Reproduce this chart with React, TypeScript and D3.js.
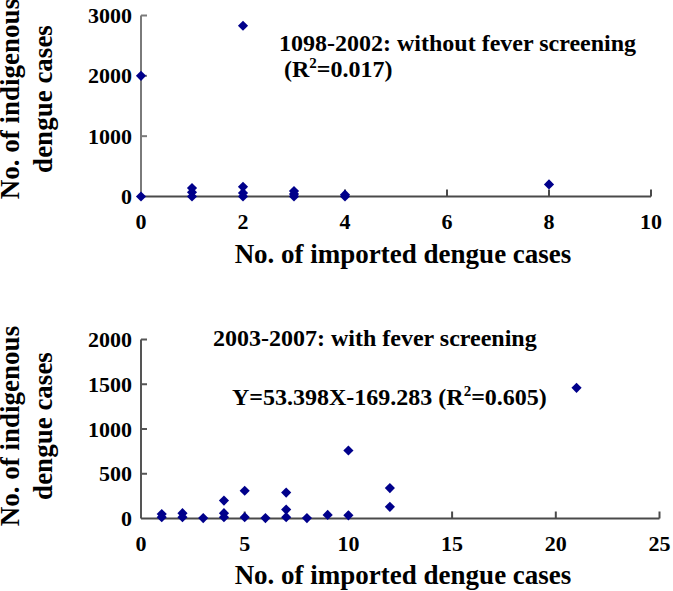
import React from "react";
import * as d3 from "d3";

// ---- Data ----
const topX = [0, 0, 1, 1, 1, 2, 2, 2, 2, 3, 3, 3, 4, 4, 8];
const topY = [0, 2000, 0, 70, 140, 0, 60, 160, 2830, 0, 40, 90, 0, 30, 200];

const botX = [1, 1, 2, 2, 3, 4, 4, 4, 5, 5, 6, 7, 7, 7, 8, 9, 10, 10, 12, 12, 21];
const botY = [50, 15, 60, 15, 5, 200, 60, 15, 310, 15, 5, 290, 100, 15, 5, 40, 760, 35, 340, 130, 1460];

const topXTicks = [0, 2, 4, 6, 8, 10];
const topYTicks = [0, 1000, 2000, 3000];
const botXTicks = [0, 5, 10, 15, 20, 25];
const botYTicks = [0, 500, 1000, 1500, 2000];

const xTitle = "No. of imported dengue cases";
const yTitle1 = "No. of indigenous";
const yTitle2 = "dengue cases";
const topNote1 = "1098-2002: without fever screening";
const topNoteR = ["(R", "2", "=0.017)"];
const botNote1 = "2003-2007: with fever screening";
const botNoteEq = ["Y=53.398X-169.283 (R", "2", "=0.605)"];

const FONT = "'Liberation Serif', 'Times New Roman', serif";
const MARK = "#00008B";

type PanelProps = {
  xs: number[];
  ys: number[];
  xDomain: [number, number];
  yDomain: [number, number];
  xRange: [number, number];
  yRange: [number, number];
  xTicks: number[];
  yTicks: number[];
  titleY: number;
  yTitleCenter: number;
  yAxisColor: string;
  notes: React.ReactNode;
};

function Panel(p: PanelProps) {
  const x = d3.scaleLinear().domain(p.xDomain).range(p.xRange);
  const y = d3.scaleLinear().domain(p.yDomain).range(p.yRange);
  const sym = d3.symbol().type(d3.symbolDiamond2).size(66)() as string;
  const x0 = p.xRange[0];
  const y0 = p.yRange[0];
  return (
    <g>
      {/* y axis */}
      <line x1={x0} x2={x0} y1={p.yRange[1]} y2={y0} stroke={p.yAxisColor} strokeWidth={2} />
      {p.yTicks.map((t) => (
        <g key={"yt" + t}>
          {t !== 0 && (
            <line x1={x0} x2={x0 + 6} y1={y(t)} y2={y(t)} stroke={p.yAxisColor} strokeWidth={2} />
          )}
          <text
            x={x0 - 9}
            y={y(t)}
            textAnchor="end"
            dominantBaseline="central"
            fontFamily={FONT}
            fontWeight="bold"
            fontSize={22}
          >
            {t}
          </text>
        </g>
      ))}
      {/* x axis */}
      <line x1={x0} x2={p.xRange[1]} y1={y0} y2={y0} stroke="#4a4a4a" strokeWidth={2} />
      {p.xTicks.map((t) => (
        <g key={"xt" + t}>
          {t !== 0 && (
            <line x1={x(t)} x2={x(t)} y1={y0} y2={y0 - 7} stroke="#4a4a4a" strokeWidth={2} />
          )}
          <text
            x={x(t)}
            y={y0 + 25}
            textAnchor="middle"
            dominantBaseline="central"
            fontFamily={FONT}
            fontWeight="bold"
            fontSize={22}
          >
            {t}
          </text>
        </g>
      ))}
      {/* points */}
      {p.xs.map((xv, i) => (
        <path key={"pt" + i} d={sym} transform={`translate(${x(xv)},${y(p.ys[i])})`} fill={MARK} />
      ))}
      {/* titles */}
      <text
        x={403}
        y={p.titleY}
        textAnchor="middle"
        fontFamily={FONT}
        fontWeight="bold"
        fontSize={27}
      >
        {xTitle}
      </text>
      <text
        transform={`translate(19,${p.yTitleCenter}) rotate(-90)`}
        textAnchor="middle"
        fontFamily={FONT}
        fontWeight="bold"
        fontSize={27}
      >
        {yTitle1}
      </text>
      <text
        transform={`translate(52,${p.yTitleCenter}) rotate(-90)`}
        textAnchor="middle"
        fontFamily={FONT}
        fontWeight="bold"
        fontSize={27}
      >
        {yTitle2}
      </text>
      {p.notes}
    </g>
  );
}

function Sup({ parts, x, yb }: { parts: string[]; x: number; yb: number }) {
  return (
    <text x={x} y={yb} fontFamily={FONT} fontWeight="bold" fontSize={24}>
      {parts[0]}
      <tspan fontSize={15} dy={-9}>
        {parts[1]}
      </tspan>
      <tspan dy={9}>{parts[2]}</tspan>
    </text>
  );
}

export default function App() {
  return (
    <svg
      width={673}
      height={591}
      style={{ position: "absolute", left: 0, top: 0, background: "#fff" }}
    >
      <rect width={673} height={591} fill="#fff" />
      <Panel
        xs={topX}
        ys={topY}
        xDomain={[0, 10]}
        yDomain={[0, 3000]}
        xRange={[141, 651]}
        yRange={[196.5, 15.5]}
        xTicks={topXTicks}
        yTicks={topYTicks}
        titleY={263}
        yTitleCenter={99}
        yAxisColor="#7a7a7a"
        notes={
          <g>
            <text x={279} y={51} fontFamily={FONT} fontWeight="bold" fontSize={24}>
              {topNote1}
            </text>
            <Sup parts={topNoteR} x={284} yb={77} />
          </g>
        }
      />
      <Panel
        xs={botX}
        ys={botY}
        xDomain={[0, 25]}
        yDomain={[0, 2000]}
        xRange={[141, 659.5]}
        yRange={[518.5, 339.5]}
        xTicks={botXTicks}
        yTicks={botYTicks}
        titleY={584}
        yTitleCenter={426}
        yAxisColor="#555555"
        notes={
          <g>
            <text x={213} y={346} fontFamily={FONT} fontWeight="bold" fontSize={24}>
              {botNote1}
            </text>
            <Sup parts={botNoteEq} x={232} yb={405} />
          </g>
        }
      />
    </svg>
  );
}
